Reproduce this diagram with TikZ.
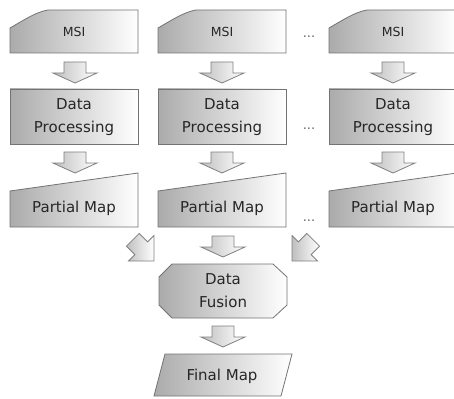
\documentclass[tikz,border=0pt]{standalone}
\usepackage{fontspec}
\setmainfont{DejaVu Sans}
\begin{document}
\begin{tikzpicture}[x=1pt,y=-1pt,
  shapebox/.style={draw=black!55, line width=0.8pt, left color=black!33, right color=white},
  arrowshape/.style={draw=black!50, line width=0.8pt, left color=black!25, right color=white},
  txt/.style={font=\fontsize{15}{23}\selectfont, text=black!85, align=center, inner sep=0pt},
  smalltxt/.style={font=\fontsize{12.5}{15}\selectfont, text=black!85, inner sep=0pt},
  dotstxt/.style={font=\fontsize{13}{15}\selectfont, text=black!60, inner sep=0pt, anchor=base},
  downarrow/.pic={\path[arrowshape] (0,0) -- (-22,-10) -- (-11,-10) -- (-11,-21) -- (11,-21) -- (11,-10) -- (22,-10) -- cycle;},
  diagarrow/.pic={\path[arrowshape] (0,0) -- (-18,-18) -- (-9,-18) -- (-9,-30) -- (9,-30) -- (9,-18) -- (18,-18) -- cycle;}
]
\useasboundingbox (0,0) rectangle (454,398);
\clip (0,0) rectangle (454,398);

% ---- column shapes ----
\foreach \xl/\c in {10/1,158/2,329/3}{
  % MSI (card with cut corner)
  \path[shapebox] (\xl,28) .. controls (\xl+14,20) and (\xl+26,12) .. (\xl+38,10) -- (\xl+128,10) -- (\xl+128,53) -- (\xl,53) -- cycle;
  % Data Processing
  \path[shapebox] (\xl,89) rectangle (\xl+128,144);
  % Partial Map (manual input)
  \path[shapebox] (\xl,191) -- (\xl+128,173) -- (\xl+128,227) -- (\xl,227) -- cycle;
}

% ---- text ----
\node[smalltxt] (msi1) at (74,32) {MSI};
\node[smalltxt] (msi2) at (222,32) {MSI};
\node[smalltxt] (msi3) at (393,32) {MSI};
\node[txt] (dp1) at (74,117) {Data\\Processing};
\node[txt] (dp2) at (222,117) {Data\\Processing};
\node[txt] (dp3) at (393,117) {Data\\Processing};
\node[txt] (pm1) at (74,208) {Partial Map};
\node[txt] (pm2) at (222,208) {Partial Map};
\node[txt] (pm3) at (393,208) {Partial Map};

\node[dotstxt] (dots1) at (309,38) {...};
\node[dotstxt] (dots2) at (309,129) {...};
\node[dotstxt] (dots3) at (309,221) {...};

% ---- vertical block arrows ----
\pic (a11) at (75,83) {downarrow};
\pic (a12) at (222,83) {downarrow};
\pic (a13) at (393,83) {downarrow};
\pic (a21) at (75,173) {downarrow};
\pic (a22) at (222,173) {downarrow};
\pic (a23) at (393,173) {downarrow};
\pic (a3) at (223,257) {downarrow};
\pic (a4) at (223,347) {downarrow};

% ---- diagonal block arrows ----
\pic[rotate=45] (dl) at (154,261) {diagarrow};
\pic[rotate=-45] (dr) at (292,261) {diagarrow};

% ---- Data Fusion ----
\path[shapebox] (172,264) -- (273,264) -- (287,277) -- (287,305) -- (273,318) -- (172,318) -- (159,305) -- (159,277) -- cycle;
\node[txt] (fusion) at (223,291) {Data\\Fusion};

% ---- Final Map ----
\path[shapebox] (165,354) -- (292,354) -- (281,396) -- (154,396) -- cycle;
\node[txt] (final) at (222,376) {Final Map};
\end{tikzpicture}
\end{document}
